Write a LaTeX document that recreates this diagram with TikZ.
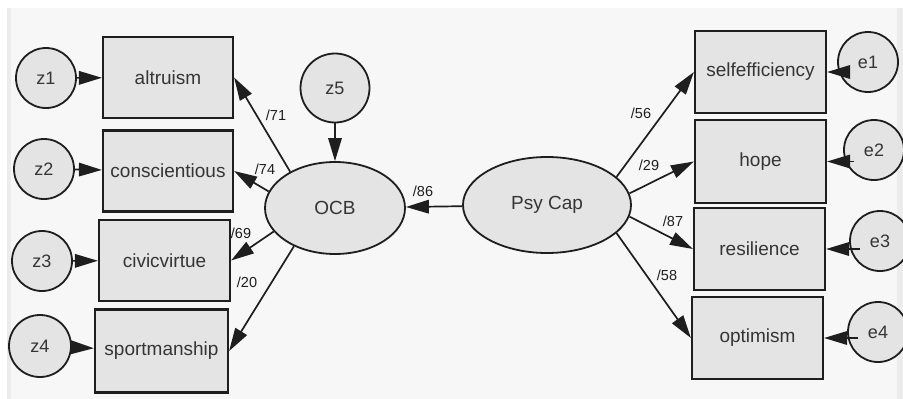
\documentclass[tikz,border=0pt]{standalone}
\usepackage{fontspec}
\setmainfont{Liberation Sans}
\usetikzlibrary{arrows.meta,shapes.geometric,calc}
\definecolor{panel}{HTML}{F7F7F7}
\definecolor{strip}{HTML}{ECECEC}
\definecolor{nodefill}{HTML}{E4E4E4}
\definecolor{ink}{HTML}{1E1E1E}
\tikzset{
  obs/.style={draw=ink, line width=2.2pt, fill=nodefill, rectangle, inner sep=0pt,
    font=\fontsize{19}{22}\selectfont, text=ink!90},
  err/.style={draw=ink, line width=1.8pt, fill=nodefill, circle, inner sep=0pt,
    minimum size=60pt, font=\fontsize{18}{21}\selectfont, text=ink!90},
  lat/.style={draw=ink, line width=1.8pt, fill=nodefill, ellipse, inner sep=0pt,
    font=\fontsize{19}{22}\selectfont, text=ink!90},
  conn/.style={draw=ink, line width=1.7pt, -{Triangle[length=23pt,width=13.5pt]}},
  lbl/.style={font=\fontsize{14.5}{16}\selectfont, text=ink, inner sep=0pt}
}
\begin{document}
\begin{tikzpicture}[x=1pt,y=-1pt]
\useasboundingbox (0,0) rectangle (903,399);
\fill[white] (0,0) rectangle (903,399);
\fill[panel] (7,8) rectangle (897,399);
\fill[strip] (7,8) rectangle (11,399);
\fill[strip] (897,8) rectangle (903,399);

% observed variables, left
\node[obs, minimum width=130pt, minimum height=81pt] (altruism) at (168,77.5) {altruism};
\node[obs, minimum width=130pt, minimum height=81pt] (consc) at (168,171) {conscientious};
\node[obs, minimum width=131pt, minimum height=81pt] (civic) at (164.5,260.5) {civicvirtue};
\node[obs, minimum width=133pt, minimum height=83pt] (sport) at (161.5,351) {sportmanship};

% observed variables, right
\node[obs, minimum width=131pt, minimum height=82pt] (self) at (760.5,72) {selfefficiency};
\node[obs, minimum width=131pt, minimum height=83pt] (hope) at (760.5,161.5) {hope};
\node[obs, minimum width=131pt, minimum height=82pt] (resil) at (759.5,249) {resilience};
\node[obs, minimum width=131pt, minimum height=82pt] (optim) at (757.5,338) {optimism};

% latent variables
\node[lat, minimum width=140pt, minimum height=92pt] (OCB) at (335,208) {OCB};
\node[lat, minimum width=168pt, minimum height=96pt] (PC) at (547,205) {Psy Cap};

% error terms
\node[err] (z1) at (46,78) {z1};
\node[err] (z2) at (44,169) {z2};
\node[err] (z3) at (42,261) {z3};
\node[err, minimum size=62pt] (z4) at (40,346) {z4};
\node[err, minimum size=69pt] (z5) at (335,88) {z5};
\node[err] (e1) at (868,62) {e1};
\node[err] (e2) at (874,150) {e2};
\node[err] (e3) at (880,241) {e3};
\node[err] (e4) at (878,332) {e4};

% paths
\draw[conn] (z1) -- (altruism);
\draw[conn] (z2) -- (consc);
\draw[conn] (z3) -- (civic);
\draw[conn] (z4) -- (sport);
\draw[conn] (z5) -- (OCB);
\draw[conn] (OCB.141) -- (altruism.east);
\draw[conn] (OCB.166.6) -- (consc.east);
\draw[conn] (OCB.201) -- (civic.east);
\draw[conn] (OCB.223) -- (sport.east);
\draw[conn] (PC) -- (OCB);
\draw[conn] (PC.22.5) -- (self.west);
\draw[conn] (PC.8.2) -- (hope.west);
\draw[conn] (PC.-8.3) -- (resil.west);
\draw[conn] (PC.-22) -- (optim.west);
\draw[conn] ($(e1.west |- self.east)+(11,0)$) -- (self.east);
\draw[conn] ($(e2.west |- hope.east)+(11,0)$) -- (hope.east);
\draw[conn] ($(e3.west |- resil.east)+(11,0)$) -- (resil.east);
\draw[conn] ($(e4.west |- optim.east)+(11,0)$) -- (optim.east);

% coefficients
\node[lbl] (l71) at (276,115) {/71};
\node[lbl] (l74) at (265,169) {/74};
\node[lbl] (l69) at (241,233) {/69};
\node[lbl] (l20) at (247,282) {/20};
\node[lbl] (l86) at (423,191) {/86};
\node[lbl] (l56) at (641,113) {/56};
\node[lbl] (l29) at (649,165) {/29};
\node[lbl] (l87) at (673,221) {/87};
\node[lbl] (l58) at (667,275) {/58};
\end{tikzpicture}
\end{document}
